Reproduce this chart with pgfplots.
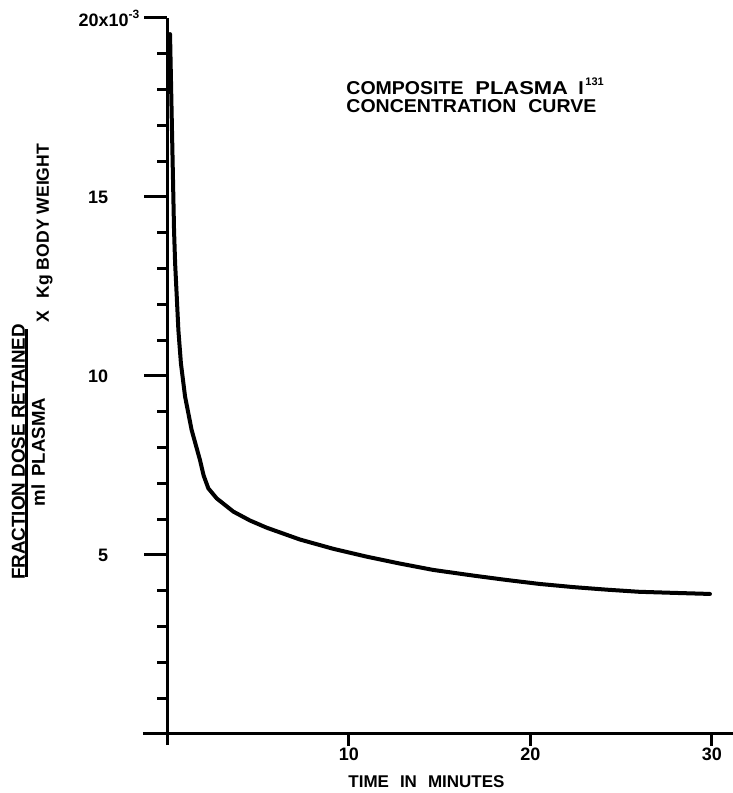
\documentclass[border=0pt]{standalone}
\usepackage{pgfplots}
\pgfplotsset{compat=1.18}
\usepackage{fontspec}
\setmainfont{Liberation Sans}
\newfontfamily\widefont[FakeStretch=1.05]{Liberation Sans}
\newfontfamily\widerfont[FakeStretch=1.18]{Liberation Sans}
\begin{document}
\begin{tikzpicture}[font=\fontsize{9}{10}\selectfont\bfseries]
\begin{axis}[
  name=ax,
  scale only axis, width=295pt, height=363.5pt,
  axis lines=middle,
  axis line style={-, line width=1.5pt},
  xmin=-1.34, xmax=31.17, ymin=-0.31, ymax=20,
  enlargelimits=false, clip=false,
  xtick={10,20,30}, xticklabels={10,20,30},
  ytick={5,10,15}, yticklabels={5,10,15},
  extra y ticks={20}, extra y tick labels={20x10\raisebox{4pt}{\fontsize{6}{6}\selectfont -3}},
  extra y tick style={yticklabel style={xshift=15.5pt}},
  minor ytick={1,2,3,4,6,7,8,9,11,12,13,14,16,17,18,19},
  tick align=outside,
  major tick length=11.5pt, minor tick length=5pt,
  tick style={line width=1.5pt, black},
  xtick style={/pgfplots/major tick length=6pt},
  yticklabel style={anchor=east, xshift=-14.5pt, font=\fontsize{9}{10}\selectfont\bfseries},
  xticklabel style={anchor=north, yshift=8pt, font=\fontsize{9}{10}\selectfont\bfseries},
]
\addplot[line width=2pt, line join=round, line cap=round] coordinates {
 (0.15,19.55) (0.26,16.8) (0.37,14.08) (0.43,13.15) (0.52,12.22) (0.61,11.28)
 (0.75,10.35) (0.98,9.42) (1.34,8.49) (1.80,7.65) (2.00,7.22) (2.26,6.86)
 (2.72,6.58) (3.64,6.21) (4.56,5.96) (5.48,5.76) (7.31,5.43) (9.15,5.17)
 (11.0,4.95) (12.8,4.76) (14.66,4.58) (16.9,4.42) (18.7,4.30) (20.5,4.19)
 (22.4,4.10) (24.2,4.03) (26.0,3.97) (27.9,3.94) (29.9,3.91)
};
\end{axis}
% title
\node[anchor=base west, inner sep=0pt, font=\widefont\fontsize{9.3}{10}\selectfont\bfseries] at ([xshift=101.5pt,yshift=325pt]ax.south west) {COMPOSITE};
\node[anchor=base west, inner sep=0pt, font=\widerfont\fontsize{9.3}{10}\selectfont\bfseries] at ([xshift=166pt,yshift=325pt]ax.south west) {PLASMA};
\node[anchor=base west, inner sep=0pt, font=\widefont\fontsize{9.3}{10}\selectfont\bfseries] at ([xshift=217.5pt,yshift=325pt]ax.south west) {I};
\node[anchor=north west, inner sep=0pt, font=\fontsize{5.5}{6}\selectfont\bfseries] at ([xshift=221pt,yshift=334pt]ax.south west) {131};
\node[anchor=base west, inner sep=0pt, font=\widefont\fontsize{9.3}{10}\selectfont\bfseries] at ([xshift=101.5pt,yshift=316pt]ax.south west) {CONCENTRATION\hspace{6pt}CURVE};
% x label
\node[anchor=base west, inner sep=0pt, font=\fontsize{8.5}{10}\selectfont\bfseries] at ([xshift=102.5pt,yshift=-21.5pt]ax.south west) {TIME\hspace{5.5pt}IN\hspace{5.5pt}MINUTES};
% y label
\node[rotate=90, anchor=base, inner sep=0pt, font=\fontsize{9.4}{10}\selectfont\bfseries] at ([xshift=-59pt,yshift=146.5pt]ax.south west) {FRACTION DOSE RETAINED};
\draw[line width=1.5pt] ([xshift=-58pt,yshift=84pt]ax.south west) -- ([xshift=-58pt,yshift=208pt]ax.south west);
\node[rotate=90, anchor=base, inner sep=0pt, font=\fontsize{9.3}{10}\selectfont\bfseries] at ([xshift=-49pt,yshift=146.5pt]ax.south west) {ml\hspace{4pt}PLASMA};
\node[rotate=90, anchor=base, inner sep=0pt, font=\fontsize{8.8}{10}\selectfont\bfseries] at ([xshift=-47pt,yshift=256pt]ax.south west) {X\hspace{6pt}Kg BODY WEIGHT};
\pgfresetboundingbox
\path[use as bounding box] ([xshift=-71.5pt,yshift=-24pt]ax.south west) rectangle ([yshift=9pt]ax.north east);
\end{tikzpicture}
\end{document}
